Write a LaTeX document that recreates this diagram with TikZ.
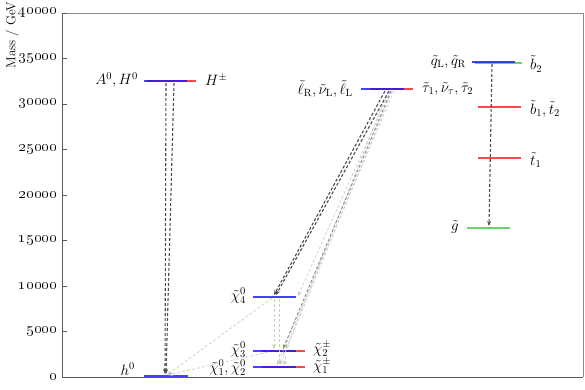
\RequirePackage{fix-cm}
\documentclass[tikz,border=0pt]{standalone}
\usetikzlibrary{arrows.meta}
\definecolor{lvlblue}{RGB}{20,20,255}
\definecolor{lvlred}{RGB}{255,25,25}
\definecolor{lvlgreen}{RGB}{70,200,70}
\definecolor{framec}{RGB}{90,90,90}
\begin{document}
\begin{tikzpicture}[x=1pt,y=-1pt,
  lvl/.style={line width=1.3pt, opacity=0.8},
  lab/.style={font=\fontsize{15}{17}\selectfont, inner sep=0pt},
  ticklab/.style={font=\fontsize{15.5}{18}\selectfont, inner sep=0pt, anchor=east},
  tipstyle/.style={-{Stealth[length=5pt,width=4pt]}},
  decdark/.style={tipstyle, dash pattern=on 3pt off 2pt, draw=black!70, line width=1.1pt},
  decmid/.style={tipstyle, dash pattern=on 3pt off 2pt, draw=black!45, line width=0.9pt},
  declight/.style={tipstyle, dash pattern=on 3pt off 2pt, draw=black!20, line width=0.7pt},
]
\useasboundingbox (0,0) rectangle (585,389);
% frame
\coordinate (fbl) at (62,377);
\coordinate (fbr) at (583,377);
\coordinate (ftl) at (62,13);
\coordinate (ftr) at (583,13);
\draw[framec!70, line width=0.8pt] (fbr) -- (ftr) -- (ftl);
\draw[framec, line width=0.9pt] (ftl) -- (fbl) -- (fbr);
% ticks
\foreach \v/\t in {0/0,1/5000,2/10000,3/15000,4/20000,5/25000,6/30000,7/35000,8/40000}{
  \draw[framec, line width=0.7pt] (62,{377-45.5*\v}) -- (67,{377-45.5*\v});
  \node[ticklab] (tick\v) at (57,{377-45.5*\v}) {\oldstylenums{\t}};
}
\node[font=\fontsize{13}{15}\selectfont, rotate=90, inner sep=0pt] (ylab) at (12,35) {Mass / GeV};

% ---------- levels ----------
% heavy Higgs
\coordinate (HHbL) at (144,81); \coordinate (HHbR) at (187,81);
\coordinate (HHrL) at (147,81); \coordinate (HHrR) at (196,81);
\draw[lvl, lvlred] (HHrL) -- (HHrR);
\draw[lvl, lvlblue] (HHbL) -- (HHbR);
\node[lab, anchor=east] (lAH) at (138,80) {$A^0, H^0$};
\node[lab, anchor=west] (lHpm) at (205,80) {$H^\pm$};
% light Higgs
\coordinate (hL) at (144,376); \coordinate (hR) at (188,376);
\draw[lvl, lvlblue] (hL) -- (hR);
\node[lab, anchor=east] (lh) at (135,369) {$h^0$};
% sleptons
\coordinate (slbL) at (361,89); \coordinate (slbR) at (404,89);
\coordinate (slrL) at (370,89); \coordinate (slrR) at (413,89);
\draw[lvl, lvlred] (slrL) -- (slrR);
\draw[lvl, lvlblue] (slbL) -- (slbR);
\node[lab, anchor=east] (lsl) at (353,89) {$\tilde\ell_{\mathrm{R}}, \tilde\nu_{\mathrm{L}}, \tilde\ell_{\mathrm{L}}$};
\node[lab, anchor=west] (ltau) at (422,89) {$\tilde\tau_1, \tilde\nu_\tau, \tilde\tau_2$};
% squarks
\coordinate (sqgL) at (475,63); \coordinate (sqgR) at (522,63);
\coordinate (sqbL) at (472,62); \coordinate (sqbR) at (515,62);
\draw[lvl, lvlgreen] (sqgL) -- (sqgR);
\draw[lvl, lvlblue] (sqbL) -- (sqbR);
\node[lab, anchor=east] (lsq) at (466,62) {$\tilde q_{\mathrm{L}}, \tilde q_{\mathrm{R}}$};
\node[lab, anchor=west] (lb2) at (530,64) {$\tilde b_2$};
% b1 t2
\coordinate (btL) at (478,107); \coordinate (btR) at (521,107);
\draw[lvl, lvlred] (btL) -- (btR);
\node[lab, anchor=west] (lbt) at (530,109) {$\tilde b_1, \tilde t_2$};
% t1
\coordinate (t1L) at (478,158); \coordinate (t1R) at (521,158);
\draw[lvl, lvlred] (t1L) -- (t1R);
\node[lab, anchor=west] (lt1) at (530,160) {$\tilde t_1$};
% gluino
\coordinate (glL) at (467,228); \coordinate (glR) at (510,228);
\draw[lvl, lvlgreen] (glL) -- (glR);
\node[lab, anchor=east] (lgl) at (459,227) {$\tilde g$};
% neutralino 4
\coordinate (n4L) at (253,297); \coordinate (n4R) at (296,297);
\draw[lvl, lvlblue] (n4L) -- (n4R);
\node[lab, anchor=east] (ln4) at (246,296) {$\tilde\chi^0_4$};
% neutralino 3 / chargino 2
\coordinate (c2L) at (262,351); \coordinate (c2R) at (305,351);
\coordinate (n3L) at (253,351); \coordinate (n3R) at (296,351);
\draw[lvl, lvlred] (c2L) -- (c2R);
\draw[lvl, lvlblue] (n3L) -- (n3R);
\node[lab, anchor=east] (ln3) at (246,350) {$\tilde\chi^0_3$};
\node[lab, anchor=west] (lc2) at (313,349) {$\tilde\chi^\pm_2$};
% neutralino 1,2 / chargino 1
\coordinate (c1L) at (262,367); \coordinate (c1R) at (305,367);
\coordinate (n1L) at (253,367); \coordinate (n1R) at (296,367);
\draw[lvl, lvlred] (c1L) -- (c1R);
\draw[lvl, lvlblue] (n1L) -- (n1R);
\node[lab, anchor=east] (ln1) at (246,368) {$\tilde\chi^0_1, \tilde\chi^0_2$};
\node[lab, anchor=west] (lc1) at (313,366) {$\tilde\chi^\pm_1$};

% ---------- decays ----------
% light ones first
\coordinate (slA) at (388,91); \coordinate (slB) at (392,91);
\coordinate (slC) at (394,91); \coordinate (slD) at (390,91);
\coordinate (n4x) at (298,296);
\coordinate (c2a) at (286,349);
\coordinate (c1a) at (280,365);
\coordinate (c1b) at (277,365);
\draw[declight] (slA) -- (c2a);
\draw[declight] (slB) -- (c1a);
\draw[declight] (slC) -- (c1b);
\draw[declight] (slD) -- (n4x);
\coordinate (n4a) at (274,299); \coordinate (n4b) at (279,299);
\coordinate (n3a) at (274,349); \coordinate (n1a) at (279,365);
\draw[declight] (n4a) -- (n3a);
\draw[declight] (n4b) -- (n1a);
\coordinate (n4c) at (272,298); \coordinate (hA) at (167,375);
\draw[declight] (n4c) -- (hA);
\coordinate (n3b) at (268,352); \coordinate (hB) at (168,375);
\draw[declight] (n3b) -- (hB);
\coordinate (n3c) at (283,352); \coordinate (n1b) at (283,365);
\draw[declight] (n3c) to[bend left=40] (n1b);
% medium
\coordinate (slE) at (391,91); \coordinate (c2b) at (283,349);
\draw[decmid] (slE) -- (c2b);
% dark
\coordinate (slF) at (385,91); \coordinate (slG) at (389,91);
\coordinate (n4d) at (274,295); \coordinate (n4e) at (276,295);
\draw[decdark] (slF) -- (n4d);
\draw[decdark] (slG) -- (n4e);
\coordinate (HHa) at (166,83); \coordinate (HHb) at (174,83);
\coordinate (hC) at (165,374); \coordinate (hD) at (166,374);
\draw[decdark] (HHa) -- (hC);
\draw[decdark] (HHb) -- (hD);
\coordinate (sqa) at (492,64); \coordinate (gla) at (489,226);
\draw[decdark] (sqa) -- (gla);
\end{tikzpicture}
\end{document}
